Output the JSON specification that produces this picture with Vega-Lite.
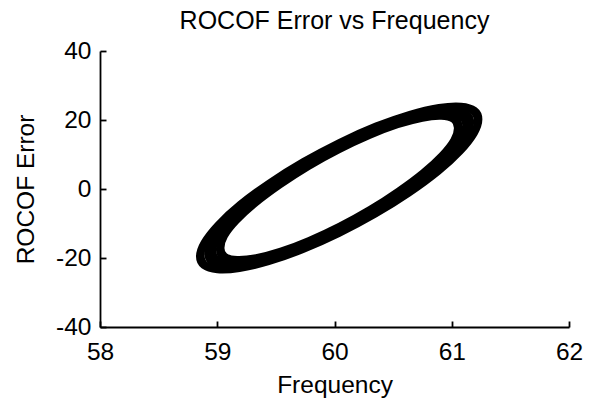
{
  "$schema": "https://vega.github.io/schema/vega-lite/v6.json",
  "width": 469,
  "height": 276,
  "autosize": "none",
  "padding": {"left": 100, "top": 51, "right": 28, "bottom": 71},
  "background": "white",
  "title": {"text": "ROCOF Error vs Frequency", "font": "Liberation Sans", "fontSize": 25, "fontWeight": "normal", "color": "black", "anchor": "middle", "offset": 4},
  "config": {
    "view": {"stroke": null},
    "axis": {
      "domainColor": "black", "domainWidth": 1.8,
      "tickColor": "black", "tickWidth": 1.8,
      "labelFont": "Liberation Sans", "labelFontSize": 24.5, "labelColor": "black",
      "labelOverlap": false, "labelBound": false, "labelFlush": false,
      "titleFont": "Liberation Sans", "titleFontSize": 24.5, "titleFontWeight": "normal", "titleColor": "black",
      "grid": false
    }
  },
  "data": {"values": [
    {"e":0,"i":0,"x":61.04,"y":17.70},{"e":0,"i":1,"x":61.01,"y":19.91},{"e":0,"i":2,"x":60.91,"y":20.77},{"e":0,"i":3,"x":60.75,"y":20.24},{"e":0,"i":4,"x":60.54,"y":18.35},{"e":0,"i":5,"x":60.30,"y":15.24},{"e":0,"i":6,"x":60.04,"y":11.10},{"e":0,"i":7,"x":59.78,"y":6.23},{"e":0,"i":8,"x":59.54,"y":0.95},{"e":0,"i":9,"x":59.33,"y":-4.37},{"e":0,"i":10,"x":59.17,"y":-9.37},{"e":0,"i":11,"x":59.07,"y":-13.71},
    {"e":0,"i":12,"x":59.04,"y":-17.10},{"e":0,"i":13,"x":59.07,"y":-19.31},{"e":0,"i":14,"x":59.17,"y":-20.17},{"e":0,"i":15,"x":59.33,"y":-19.64},{"e":0,"i":16,"x":59.54,"y":-17.75},{"e":0,"i":17,"x":59.78,"y":-14.64},{"e":0,"i":18,"x":60.04,"y":-10.50},{"e":0,"i":19,"x":60.30,"y":-5.63},{"e":0,"i":20,"x":60.54,"y":-0.35},{"e":0,"i":21,"x":60.75,"y":4.97},{"e":0,"i":22,"x":60.91,"y":9.97},{"e":0,"i":23,"x":61.01,"y":14.31},
    {"e":1,"i":0,"x":61.07,"y":18.12},{"e":1,"i":1,"x":61.04,"y":20.43},{"e":1,"i":2,"x":60.94,"y":21.36},{"e":1,"i":3,"x":60.77,"y":20.85},{"e":1,"i":4,"x":60.56,"y":18.95},{"e":1,"i":5,"x":60.31,"y":15.78},{"e":1,"i":6,"x":60.04,"y":11.55},{"e":1,"i":7,"x":59.77,"y":6.55},{"e":1,"i":8,"x":59.52,"y":1.13},{"e":1,"i":9,"x":59.31,"y":-4.34},{"e":1,"i":10,"x":59.15,"y":-9.51},{"e":1,"i":11,"x":59.04,"y":-14.00},
    {"e":1,"i":12,"x":59.01,"y":-17.52},{"e":1,"i":13,"x":59.04,"y":-19.83},{"e":1,"i":14,"x":59.15,"y":-20.76},{"e":1,"i":15,"x":59.31,"y":-20.25},{"e":1,"i":16,"x":59.52,"y":-18.35},{"e":1,"i":17,"x":59.77,"y":-15.18},{"e":1,"i":18,"x":60.04,"y":-10.95},{"e":1,"i":19,"x":60.31,"y":-5.95},{"e":1,"i":20,"x":60.56,"y":-0.53},{"e":1,"i":21,"x":60.77,"y":4.94},{"e":1,"i":22,"x":60.94,"y":10.11},{"e":1,"i":23,"x":61.04,"y":14.60},
    {"e":2,"i":0,"x":61.11,"y":18.53},{"e":2,"i":1,"x":61.07,"y":20.94},{"e":2,"i":2,"x":60.96,"y":21.94},{"e":2,"i":3,"x":60.79,"y":21.46},{"e":2,"i":4,"x":60.57,"y":19.55},{"e":2,"i":5,"x":60.32,"y":16.32},{"e":2,"i":6,"x":60.04,"y":12.00},{"e":2,"i":7,"x":59.76,"y":6.88},{"e":2,"i":8,"x":59.51,"y":1.32},{"e":2,"i":9,"x":59.29,"y":-4.32},{"e":2,"i":10,"x":59.12,"y":-9.64},{"e":2,"i":11,"x":59.01,"y":-14.28},
    {"e":2,"i":12,"x":58.97,"y":-17.93},{"e":2,"i":13,"x":59.01,"y":-20.34},{"e":2,"i":14,"x":59.12,"y":-21.34},{"e":2,"i":15,"x":59.29,"y":-20.86},{"e":2,"i":16,"x":59.51,"y":-18.95},{"e":2,"i":17,"x":59.76,"y":-15.72},{"e":2,"i":18,"x":60.04,"y":-11.40},{"e":2,"i":19,"x":60.32,"y":-6.28},{"e":2,"i":20,"x":60.57,"y":-0.72},{"e":2,"i":21,"x":60.79,"y":4.92},{"e":2,"i":22,"x":60.96,"y":10.24},{"e":2,"i":23,"x":61.07,"y":14.88},
    {"e":3,"i":0,"x":61.14,"y":18.95},{"e":3,"i":1,"x":61.10,"y":21.46},{"e":3,"i":2,"x":60.99,"y":22.53},{"e":3,"i":3,"x":60.82,"y":22.08},{"e":3,"i":4,"x":60.59,"y":20.15},{"e":3,"i":5,"x":60.33,"y":16.87},{"e":3,"i":6,"x":60.04,"y":12.45},{"e":3,"i":7,"x":59.76,"y":7.21},{"e":3,"i":8,"x":59.49,"y":1.50},{"e":3,"i":9,"x":59.26,"y":-4.30},{"e":3,"i":10,"x":59.09,"y":-9.78},{"e":3,"i":11,"x":58.98,"y":-14.57},
    {"e":3,"i":12,"x":58.94,"y":-18.35},{"e":3,"i":13,"x":58.98,"y":-20.86},{"e":3,"i":14,"x":59.09,"y":-21.93},{"e":3,"i":15,"x":59.26,"y":-21.48},{"e":3,"i":16,"x":59.49,"y":-19.55},{"e":3,"i":17,"x":59.76,"y":-16.27},{"e":3,"i":18,"x":60.04,"y":-11.85},{"e":3,"i":19,"x":60.33,"y":-6.61},{"e":3,"i":20,"x":60.59,"y":-0.90},{"e":3,"i":21,"x":60.82,"y":4.90},{"e":3,"i":22,"x":60.99,"y":10.38},{"e":3,"i":23,"x":61.10,"y":15.17},
    {"e":4,"i":0,"x":61.17,"y":19.37},{"e":4,"i":1,"x":61.13,"y":21.99},{"e":4,"i":2,"x":61.02,"y":23.11},{"e":4,"i":3,"x":60.84,"y":22.69},{"e":4,"i":4,"x":60.61,"y":20.75},{"e":4,"i":5,"x":60.33,"y":17.41},{"e":4,"i":6,"x":60.04,"y":12.90},{"e":4,"i":7,"x":59.75,"y":7.53},{"e":4,"i":8,"x":59.47,"y":1.68},{"e":4,"i":9,"x":59.24,"y":-4.27},{"e":4,"i":10,"x":59.06,"y":-9.92},{"e":4,"i":11,"x":58.95,"y":-14.86},
    {"e":4,"i":12,"x":58.91,"y":-18.77},{"e":4,"i":13,"x":58.95,"y":-21.39},{"e":4,"i":14,"x":59.06,"y":-22.51},{"e":4,"i":15,"x":59.24,"y":-22.09},{"e":4,"i":16,"x":59.47,"y":-20.15},{"e":4,"i":17,"x":59.75,"y":-16.81},{"e":4,"i":18,"x":60.04,"y":-12.30},{"e":4,"i":19,"x":60.33,"y":-6.93},{"e":4,"i":20,"x":60.61,"y":-1.08},{"e":4,"i":21,"x":60.84,"y":4.87},{"e":4,"i":22,"x":61.02,"y":10.52},{"e":4,"i":23,"x":61.13,"y":15.46},
    {"e":5,"i":0,"x":61.21,"y":19.78},{"e":5,"i":1,"x":61.17,"y":22.50},{"e":5,"i":2,"x":61.05,"y":23.70},{"e":5,"i":3,"x":60.87,"y":23.30},{"e":5,"i":4,"x":60.62,"y":21.34},{"e":5,"i":5,"x":60.34,"y":17.95},{"e":5,"i":6,"x":60.04,"y":13.35},{"e":5,"i":7,"x":59.74,"y":7.86},{"e":5,"i":8,"x":59.46,"y":1.86},{"e":5,"i":9,"x":59.22,"y":-4.25},{"e":5,"i":10,"x":59.03,"y":-10.05},{"e":5,"i":11,"x":58.91,"y":-15.14},
    {"e":5,"i":12,"x":58.87,"y":-19.18},{"e":5,"i":13,"x":58.91,"y":-21.90},{"e":5,"i":14,"x":59.03,"y":-23.10},{"e":5,"i":15,"x":59.22,"y":-22.70},{"e":5,"i":16,"x":59.46,"y":-20.74},{"e":5,"i":17,"x":59.74,"y":-17.35},{"e":5,"i":18,"x":60.04,"y":-12.75},{"e":5,"i":19,"x":60.34,"y":-7.26},{"e":5,"i":20,"x":60.62,"y":-1.26},{"e":5,"i":21,"x":60.87,"y":4.85},{"e":5,"i":22,"x":61.05,"y":10.65},{"e":5,"i":23,"x":61.17,"y":15.74},
    {"e":6,"i":0,"x":61.24,"y":20.20},{"e":6,"i":1,"x":61.20,"y":23.02},{"e":6,"i":2,"x":61.08,"y":24.28},{"e":6,"i":3,"x":60.89,"y":23.91},{"e":6,"i":4,"x":60.64,"y":21.94},{"e":6,"i":5,"x":60.35,"y":18.50},{"e":6,"i":6,"x":60.04,"y":13.80},{"e":6,"i":7,"x":59.73,"y":8.19},{"e":6,"i":8,"x":59.44,"y":2.04},{"e":6,"i":9,"x":59.19,"y":-4.22},{"e":6,"i":10,"x":59.00,"y":-10.18},{"e":6,"i":11,"x":58.88,"y":-15.43},
    {"e":6,"i":12,"x":58.84,"y":-19.60},{"e":6,"i":13,"x":58.88,"y":-22.42},{"e":6,"i":14,"x":59.00,"y":-23.68},{"e":6,"i":15,"x":59.19,"y":-23.31},{"e":6,"i":16,"x":59.44,"y":-21.34},{"e":6,"i":17,"x":59.73,"y":-17.90},{"e":6,"i":18,"x":60.04,"y":-13.20},{"e":6,"i":19,"x":60.35,"y":-7.59},{"e":6,"i":20,"x":60.64,"y":-1.44},{"e":6,"i":21,"x":60.89,"y":4.82},{"e":6,"i":22,"x":61.08,"y":10.78},{"e":6,"i":23,"x":61.20,"y":16.03}
  ]},
  "resolve": {"axis": {"x": "independent", "y": "independent"}},
  "layer": [
    {
      "mark": {"type": "line", "interpolate": "cardinal-closed", "color": "black", "strokeWidth": 5},
      "encoding": {
        "x": {"field": "x", "type": "quantitative",
          "scale": {"domain": [58, 62], "nice": false, "zero": false},
          "axis": {"values": [58, 59, 60, 61, 62], "title": "Frequency", "ticks": false, "tickSize": 0, "labelPadding": 13, "titlePadding": 10, "labelExpr": "datum.value"}},
        "y": {"field": "y", "type": "quantitative",
          "scale": {"domain": [-40, 40], "nice": false, "zero": false},
          "axis": {"values": [-40, -20, 0, 20, 40], "title": "ROCOF Error", "ticks": false, "tickSize": 0, "labelPadding": 9, "titlePadding": 17, "labelExpr": "datum.value"}},
        "detail": {"field": "e", "type": "nominal"},
        "order": {"field": "i", "type": "quantitative"}
      }
    },
    {
      "mark": {"type": "point", "opacity": 0},
      "encoding": {
        "x": {"field": "x", "type": "quantitative",
          "axis": {"orient": "top", "offset": -276, "values": [58, 59, 60, 61, 62], "labels": false, "domain": false, "ticks": true, "tickSize": 6, "title": null}},
        "y": {"field": "y", "type": "quantitative",
          "axis": {"orient": "right", "offset": -469, "values": [-40, -20, 0, 20, 40], "labels": false, "domain": false, "ticks": true, "tickSize": 6, "title": null}}
      }
    }
  ]
}
